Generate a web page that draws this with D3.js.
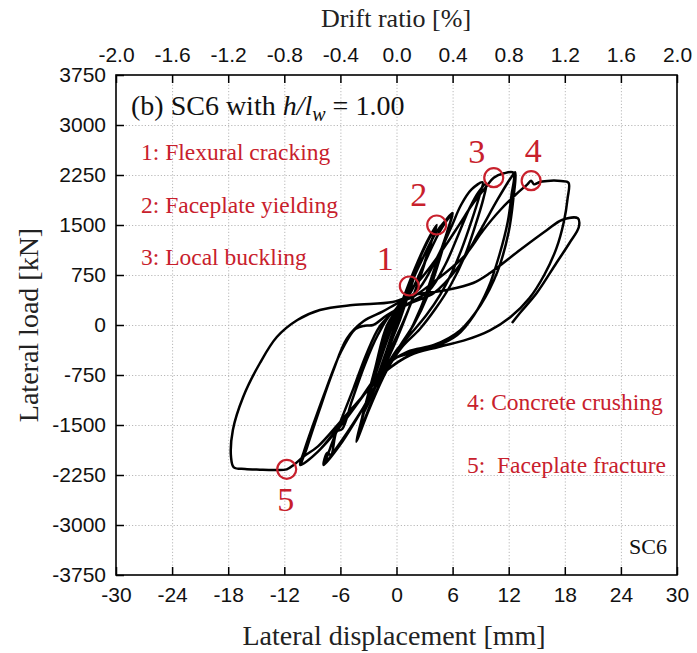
<!DOCTYPE html>
<html>
<head>
<meta charset="utf-8">
<script src="https://cdn.jsdelivr.net/npm/d3@7"></script>
<style>
  html, body { margin: 0; padding: 0; background: #fff; }
  svg { display: block; }
</style>
</head>
<body>
<svg id="chart" width="697" height="653"></svg>
<script>
// Axis ticks
const dispTicks = [-30, -24, -18, -12, -6, 0, 6, 12, 18, 24, 30];
const driftTicks = [-2.0, -1.6, -1.2, -0.8, -0.4, 0.0, 0.4, 0.8, 1.2, 1.6, 2.0];
const loadTicks = [-3750, -3000, -2250, -1500, -750, 0, 750, 1500, 2250, 3000, 3750];

// Load–displacement history, [displacement mm, load kN], cycle by cycle
const cycle1 = [[0,0],[0.45,220],[0.95,420],[1.37,585],[1.1,470],[0.55,240],[0,20],[-0.55,-190],[-1.05,-390],[-1.35,-500],[-1.05,-380],[-0.5,-150],[0.1,80],[0.7,320],[1.3,560],[0.95,400],[0.3,120],[-0.4,-150],[-1.0,-380],[-1.3,-480],[-0.9,-330],[-0.3,-90]];
const cycle2 = [[0.3,130],[1.0,430],[1.8,740],[2.6,1010],[2.2,850],[1.3,470],[0.4,90],[-0.5,-230],[-1.4,-580],[-2.4,-930],[-2.0,-770],[-1.1,-400],[-0.2,-40],[0.7,330],[1.7,720],[2.5,980],[2.0,780],[1.0,350],[0.1,0],[-1.0,-390],[-2.3,-890],[-1.8,-680],[-0.8,-280]];
const cycle3 = [[0.2,120],[1.4,620],[2.9,1130],[4.3,1500],[3.8,1280],[2.8,830],[1.7,380],[0.7,40],[-0.6,-360],[-2.1,-880],[-3.7,-1380],[-3.1,-1130],[-2.0,-640],[-0.8,-150],[0.5,320],[2.0,860],[3.4,1290],[4.2,1470],[3.6,1200],[2.4,680],[1.2,200],[0,-220],[-1.8,-780],[-3.6,-1340],[-2.9,-1040],[-1.6,-450],[-0.4,60]];
const cycle4 = [[0.8,380],[2.4,880],[4.2,1380],[5.2,1560],[6.0,1680],[5.6,1470],[4.6,980],[3.3,430],[1.9,20],[0.3,-330],[-1.4,-780],[-3.0,-1290],[-4.3,-1750],[-3.8,-1460],[-2.8,-920],[-1.6,-330],[-0.2,170],[1.4,460],[3.0,930],[4.7,1420],[5.9,1650],[5.4,1390],[4.1,860],[2.6,260],[0.9,-240],[-1.1,-690],[-2.8,-1200],[-4.2,-1700],[-3.5,-1320],[-2.3,-660],[-1.0,0]];
const cycle5 = [[0.5,300],[2.5,560],[4.3,1000],[5.8,1450],[6.9,1800],[8.0,2030],[9.2,2140],[8.9,1950],[8.0,1550],[7.0,1150],[5.9,780],[4.7,460],[3.2,150],[1.6,-120],[0,-380],[-1.8,-800],[-3.8,-1300],[-5.8,-1750],[-7.8,-2100],[-7.4,-1920],[-7.0,-1950],[-6.4,-1600],[-5.8,-1560],[-4.8,-1150],[-3.4,-600],[-2.0,-150],[-0.5,180],[1.5,340],[3.5,520],[5.2,900],[6.6,1350],[7.8,1750],[8.8,2000],[9.6,2120],[9.3,1900],[8.4,1480],[7.2,1000],[5.8,600],[4.2,250],[2.5,-60],[0.6,-330],[-1.5,-760],[-3.6,-1250],[-5.8,-1720],[-7.6,-2060],[-7.1,-1850],[-6.0,-1450],[-4.6,-950],[-3.2,-430],[-1.8,-20]];
const cycle6 = [[0,250],[1.1,480],[2.5,675],[3.9,925],[5.4,1225],[6.8,1525],[8.2,1825],[9.6,2075],[10.4,2210],[11.5,2275],[12.5,2285],[12.3,1950],[11.9,1550],[11.0,1050],[9.8,550],[8.3,150],[6.5,-150],[4,-330],[1.5,-420],[-0.5,-520],[-2.3,-800],[-4.3,-1200],[-6.3,-1550],[-8.4,-1900],[-10.3,-2100],[-9.9,-1900],[-8.8,-1450],[-7.5,-950],[-6.0,-420],[-4.4,-60],[-3.4,-10],[-2.5,0],[-1,150],[1.5,330],[4,480],[6.5,850],[8.8,1380],[10.8,1880],[12.2,2200],[12.7,2290],[12.5,1900],[12.0,1400],[10.8,800],[9.0,300],[6.8,-80],[4,-300],[1.2,-400],[-1.2,-620],[-3.5,-1050],[-6,-1520],[-8.4,-1900],[-10.1,-2080],[-9.6,-1850],[-8.3,-1300],[-6.8,-700],[-5.3,-200],[-3.5,60],[-1.5,200]];
const cycle7 = [[0.3,340],[1.8,425],[4.7,725],[7.2,1025],[9.3,1425],[11.1,1725],[12.9,1975],[14.0,2110],[14.4,2165],[14.7,2110],[15.4,2150],[16.5,2165],[17.6,2160],[18.4,2135],[18.3,1900],[17.9,1550],[17.1,1150],[15.8,750],[14.2,400],[12.2,120],[10,-80],[7.5,-220],[4.5,-330],[1.5,-450],[-1.2,-700],[-3.5,-1050],[-6,-1450],[-8.4,-1820],[-10.0,-1980],[-11.0,-2100],[-11.74,-2165],[-13,-2175],[-14.6,-2170],[-16.2,-2160],[-17.4,-2135],[-17.7,-1975],[-17.5,-1575],[-16.4,-1080],[-14.6,-570],[-12.8,-180],[-10.6,75],[-8.2,225],[-4.7,300],[-0.4,345]];
const cycle8 = [[1.8,450],[5.4,525],[8.2,630],[10,780],[13.2,1125],[16.1,1425],[17.7,1575],[19.4,1600],[19.5,1470],[18.5,1230],[17.1,930],[15,480],[13.2,180],[12.35,30]];

// Damage events on the curve: [displacement mm, load kN]
const events = [[1.37,585],[4.3,1500],[10.4,2210],[14.4,2165],[-11.74,-2165]];
const eventNames = ["1", "2", "3", "4", "5"];
const legendLeft = ["1: Flexural cracking", "2: Faceplate yielding", "3: Local buckling"];
const legendRight = ["4: Concrete crushing", "5:\u00a0 Faceplate fracture"];

const svg = d3.select("#chart");
const L = 116, R = 677, T = 75, B = 575;
const serif = "'Liberation Serif', 'Times New Roman', serif";
const sans = "'Liberation Sans', Arial, sans-serif";
const red = "#c8202c";

const x = d3.scaleLinear().domain([-30, 30]).range([L, R]);
const xDrift = d3.scaleLinear().domain([-2, 2]).range([L, R]);
const y = d3.scaleLinear().domain([-3750, 3750]).range([B, T]);
const hyphen = f => d => f(d).replace("\u2212", "-");

// dotted grid
const grid = svg.append("g").attr("stroke", "#b8b8b8").attr("stroke-width", 1).attr("stroke-dasharray", "1.2,2");
grid.selectAll(".gx").data(dispTicks.slice(1, -1)).join("line")
  .attr("x1", d => x(d) + 0.5).attr("x2", d => x(d) + 0.5).attr("y1", T).attr("y2", B);
grid.selectAll(".gy").data(loadTicks.slice(1, -1)).join("line")
  .attr("y1", d => y(d) + 0.5).attr("y2", d => y(d) + 0.5).attr("x1", L).attr("x2", R);

// axes
function styleAxis(g) {
  g.select(".domain").remove();
  g.selectAll(".tick line").attr("stroke", "#000").attr("stroke-width", 1.5);
  g.selectAll(".tick text").attr("fill", "#111").style("font-family", sans).style("font-size", "21px");
}
svg.append("g").attr("transform", `translate(0,${B})`)
  .call(d3.axisBottom(x).tickValues(dispTicks).tickFormat(hyphen(d3.format("d"))).tickSizeInner(-8).tickSizeOuter(0).tickPadding(12))
  .call(styleAxis);
svg.append("g").attr("transform", `translate(0,${T})`)
  .call(d3.axisTop(xDrift).tickValues(driftTicks).tickFormat(hyphen(d3.format(".1f"))).tickSizeInner(-8).tickSizeOuter(0).tickPadding(13))
  .call(styleAxis);
svg.append("g").attr("transform", `translate(${L},0)`)
  .call(d3.axisLeft(y).tickValues(loadTicks).tickFormat(hyphen(d3.format("d"))).tickSizeInner(-8).tickSizeOuter(0).tickPadding(10))
  .call(styleAxis);

// frame
svg.append("rect").attr("x", L).attr("y", T).attr("width", R - L).attr("height", B - T)
  .attr("fill", "none").attr("stroke", "#000").attr("stroke-width", 1.6);

// axis titles
svg.append("text").attr("x", 396).attr("y", 27).attr("text-anchor", "middle")
  .style("font-family", serif).style("font-size", "26px").attr("fill", "#222").text("Drift ratio [%]");
svg.append("text").attr("x", 394).attr("y", 645).attr("text-anchor", "middle")
  .style("font-family", serif).style("font-size", "28px").attr("fill", "#222").text("Lateral displacement [mm]");
svg.append("text").attr("transform", "translate(38,325) rotate(-90)").attr("text-anchor", "middle")
  .style("font-family", serif).style("font-size", "28px").attr("fill", "#222").text("Lateral load [kN]");

// hysteresis curve
const history = [].concat(cycle1, cycle2, cycle3, cycle4, cycle5, cycle6, cycle7, cycle8);
const line = d3.line().x(d => x(d[0])).y(d => y(d[1])).curve(d3.curveCatmullRom.alpha(0.5));
svg.append("path").datum(history).attr("d", line)
  .attr("fill", "none").attr("stroke", "#000").attr("stroke-width", 2.5).attr("stroke-linejoin", "round");

// event markers
svg.append("g").selectAll("circle").data(events).join("circle")
  .attr("cx", d => x(d[0])).attr("cy", d => y(d[1])).attr("r", 9.5)
  .attr("fill", "none").attr("stroke", red).attr("stroke-width", 2.2);
const numOffsets = [[-24, -16], [-18, -19], [-17, -15], [2, -19], [-1, 42]];
svg.append("g").selectAll("text").data(events).join("text")
  .attr("x", (d, i) => x(d[0]) + numOffsets[i][0]).attr("y", (d, i) => y(d[1]) + numOffsets[i][1])
  .attr("text-anchor", "middle").style("font-family", serif).style("font-size", "34px").attr("fill", red)
  .text((d, i) => eventNames[i]);

// panel title
const title = svg.append("text").attr("x", 131).attr("y", 115)
  .style("font-family", serif).style("font-size", "28px").attr("fill", "#111");
title.append("tspan").text("(b) SC6 with ");
title.append("tspan").style("font-style", "italic").text("h/l");
title.append("tspan").style("font-style", "italic").style("font-size", "20px").attr("dy", 6).text("w");
title.append("tspan").attr("dy", -6).text(" = 1.00");

// legends
svg.append("g").selectAll("text").data(legendLeft).join("text")
  .attr("x", 141).attr("y", (d, i) => 160 + i * 52.5)
  .style("font-family", serif).style("font-size", "23.5px").attr("fill", red).text(d => d);
svg.append("g").selectAll("text").data(legendRight).join("text")
  .attr("x", 467).attr("y", (d, i) => 410 + i * 62.5)
  .style("font-family", serif).style("font-size", "23.5px").attr("fill", red).text(d => d);

svg.append("text").attr("x", 667).attr("y", 554).attr("text-anchor", "end")
  .style("font-family", serif).style("font-size", "22px").attr("fill", "#111").text("SC6");
</script>
</body>
</html>
